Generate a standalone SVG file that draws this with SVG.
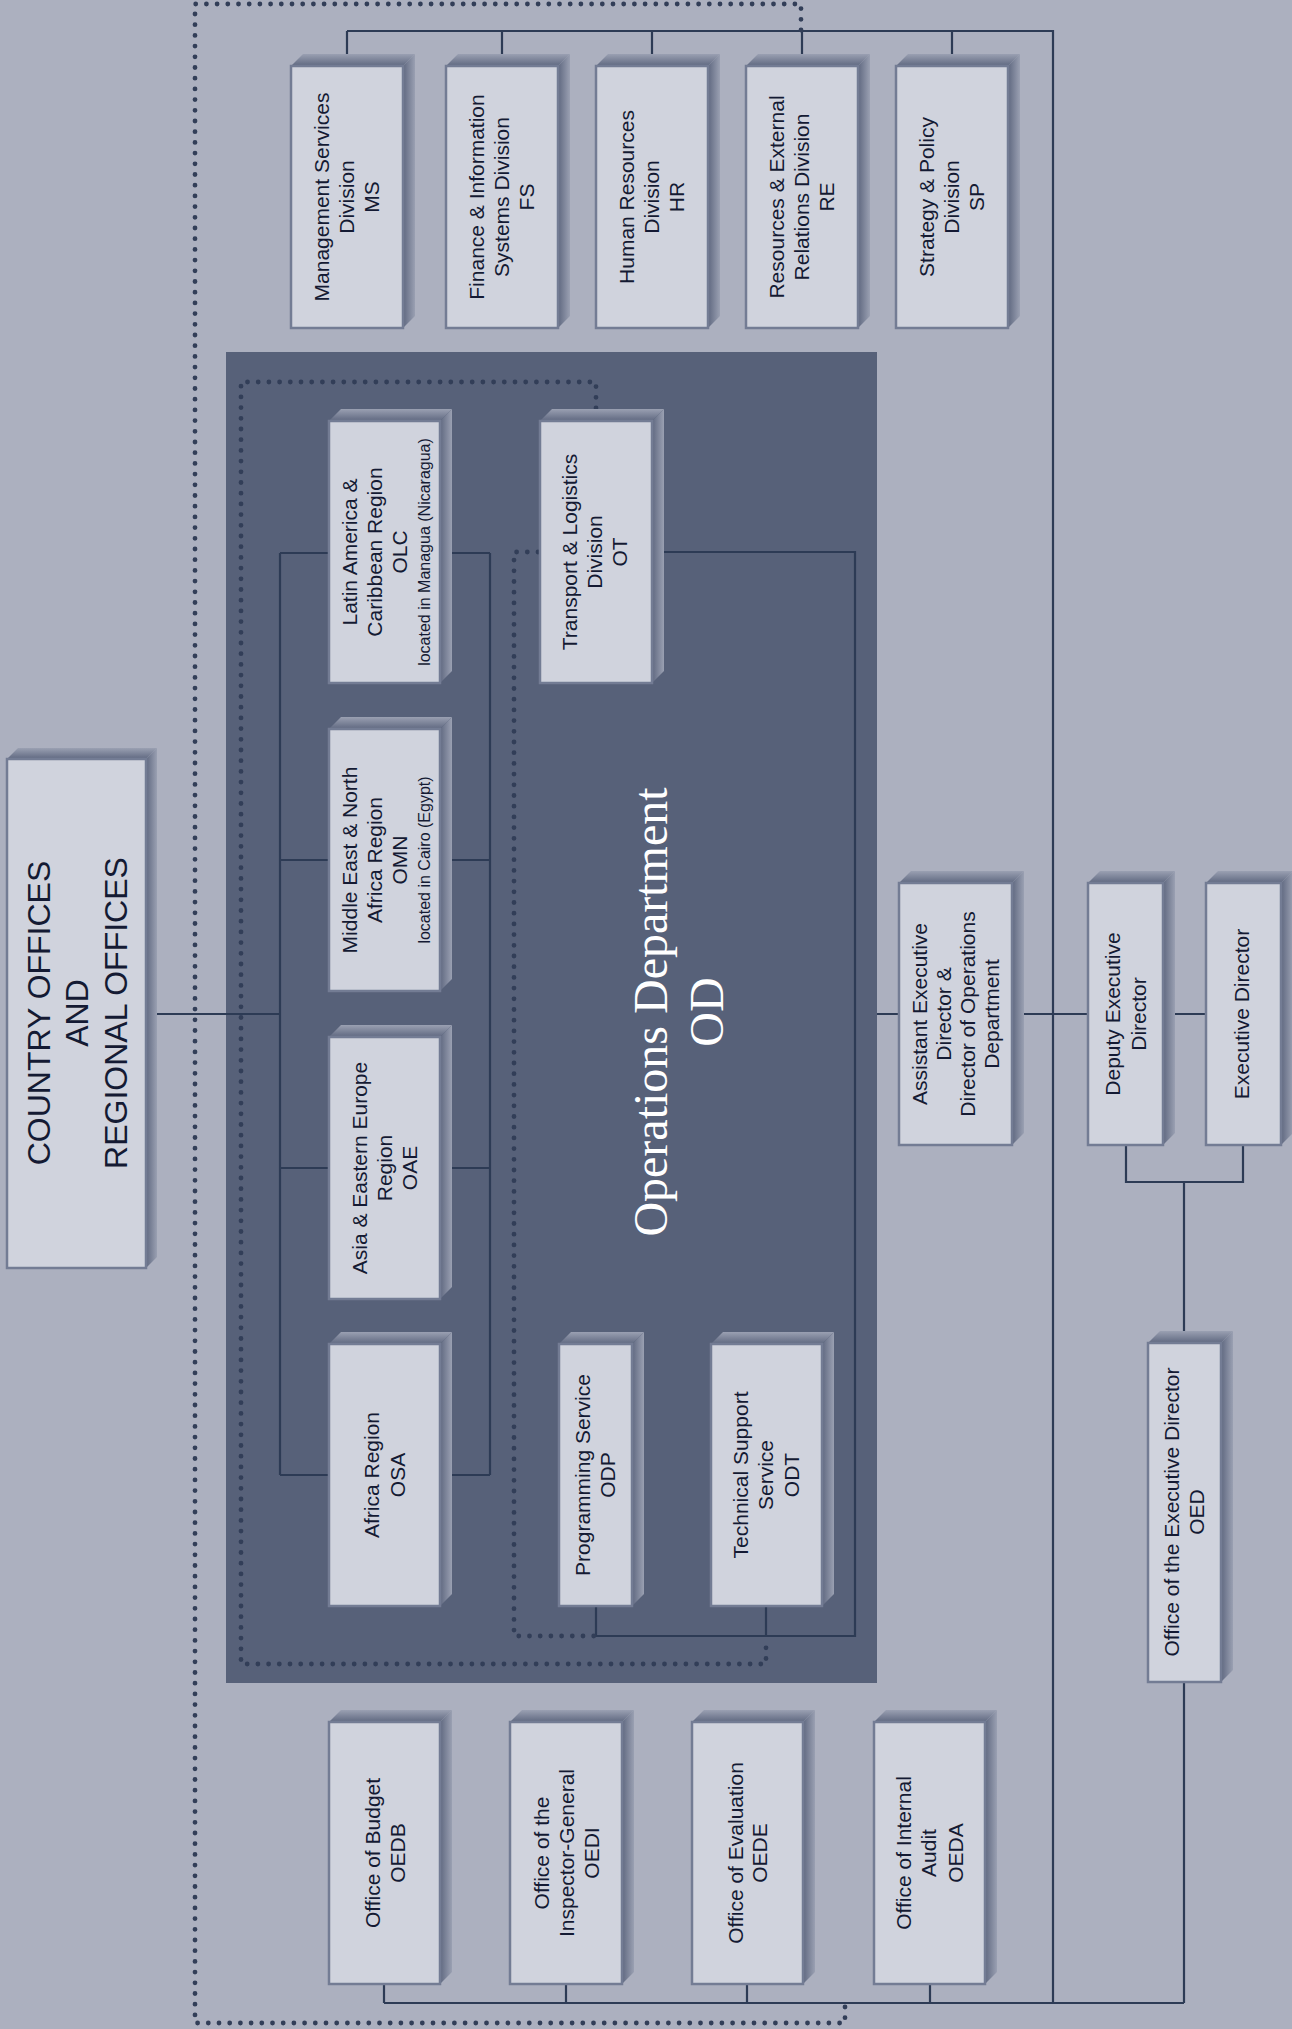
<svg xmlns="http://www.w3.org/2000/svg" width="1292" height="2029" viewBox="0 0 1292 2029">
<defs>
<linearGradient id="gT" x1="0" y1="0" x2="0" y2="1"><stop offset="0" stop-color="#9aa0b2"/><stop offset="1" stop-color="#5f6880"/></linearGradient>
<linearGradient id="gS" x1="0" y1="0" x2="1" y2="0"><stop offset="0" stop-color="#5f6880"/><stop offset="1" stop-color="#9aa0b2"/></linearGradient>
<style>
.f{fill:#d0d3dd;stroke:#737c94;stroke-width:2.5}
.tp{fill:url(#gT)}
.sd{fill:url(#gS)}
.ln{fill:none;stroke:#2d3b55;stroke-width:2.2}
.dt{fill:none;stroke:#323e58;stroke-width:4.8;stroke-dasharray:0 10.7;stroke-linecap:round}
.t{font-family:"Liberation Sans",Arial,sans-serif;font-size:21px;fill:#141a33;text-anchor:middle}
.s{font-size:16px}
.co{font-size:32px}
.od{font-family:"Liberation Serif","Times New Roman",serif;font-size:48px;fill:#ffffff;text-anchor:middle}
</style>
</defs>
<rect width="1292" height="2029" fill="#acb0bf"/>
<g id="n-od">
<rect x="226" y="352" width="651" height="1331" fill="#576179"/>
<text class="od" transform="translate(694,1012) rotate(-90)"><tspan x="0" y="-27">Operations Department</tspan><tspan x="0" y="29">OD</tspan></text>
</g>
<g id="connectors">
<path class="ln" d="M347,31 H1053 V2003 M347,31 V54 M502,31 V54 M652,31 V54 M802,31 V54 M952,31 V54"/>
<path class="ln" d="M157,1014 H280"/>
<path class="ln" d="M280,553 V1475 M490,553 V1475 M280,553 H490 M280,860 H490 M280,1168 H490 M280,1475 H490"/>
<path class="ln" d="M596,552 H855 V1636 H596 V1606 M766,1636 V1606"/>
<path class="ln" d="M877,1014 H1206"/>
<path class="ln" d="M1126,1145 V1182 H1243 V1145 M1184,1182 V2003"/>
<path class="ln" d="M384,2003 H1184 M384,1984 V2003 M566,1984 V2003 M747,1984 V2003 M930,1984 V2003"/>
<path class="dt" d="M801,30 V4 H195 V2023 H845 V2004"/>
<path class="dt" d="M596,408 V382 H241 V1664 H766 V1638"/>
<path class="dt" d="M538,552 H514 V1636 H594"/>
</g>
<g id="n-ms"><polygon class="tp" points="291,66 303,54 415,54 403,66"/><polygon class="sd" points="403,66 415,54 415,316 403,328"/><rect class="f" x="291" y="66" width="112" height="262"/>
<text class="t" transform="translate(347,197) rotate(-90)"><tspan x="0" y="-18">Management Services</tspan><tspan x="0" y="7">Division</tspan><tspan x="0" y="32">MS</tspan></text></g>
<g id="n-fs"><polygon class="tp" points="446,66 458,54 570,54 558,66"/><polygon class="sd" points="558,66 570,54 570,316 558,328"/><rect class="f" x="446" y="66" width="112" height="262"/>
<text class="t" transform="translate(502,197) rotate(-90)"><tspan x="0" y="-18">Finance &amp; Information</tspan><tspan x="0" y="7">Systems Division</tspan><tspan x="0" y="32">FS</tspan></text></g>
<g id="n-hr"><polygon class="tp" points="596,66 608,54 720,54 708,66"/><polygon class="sd" points="708,66 720,54 720,316 708,328"/><rect class="f" x="596" y="66" width="112" height="262"/>
<text class="t" transform="translate(652,197) rotate(-90)"><tspan x="0" y="-18">Human Resources</tspan><tspan x="0" y="7">Division</tspan><tspan x="0" y="32">HR</tspan></text></g>
<g id="n-re"><polygon class="tp" points="746,66 758,54 870,54 858,66"/><polygon class="sd" points="858,66 870,54 870,316 858,328"/><rect class="f" x="746" y="66" width="112" height="262"/>
<text class="t" transform="translate(802,197) rotate(-90)"><tspan x="0" y="-18">Resources &amp; External</tspan><tspan x="0" y="7">Relations Division</tspan><tspan x="0" y="32">RE</tspan></text></g>
<g id="n-sp"><polygon class="tp" points="896,66 908,54 1020,54 1008,66"/><polygon class="sd" points="1008,66 1020,54 1020,316 1008,328"/><rect class="f" x="896" y="66" width="112" height="262"/>
<text class="t" transform="translate(952,197) rotate(-90)"><tspan x="0" y="-18">Strategy &amp; Policy</tspan><tspan x="0" y="7">Division</tspan><tspan x="0" y="32">SP</tspan></text></g>
<g id="n-olc"><polygon class="tp" points="329,421 341,409 452,409 440,421"/><polygon class="sd" points="440,421 452,409 452,671 440,683"/><rect class="f" x="329" y="421" width="111" height="262"/>
<text class="t" transform="translate(384.5,552) rotate(-90)"><tspan x="0" y="-27.5">Latin America &amp;</tspan><tspan x="0" y="-2.5">Caribbean Region</tspan><tspan x="0" y="22.5">OLC</tspan><tspan class="s" x="0" y="45">located in Managua (Nicaragua)</tspan></text></g>
<g id="n-ot"><polygon class="tp" points="540,421 552,409 664,409 652,421"/><polygon class="sd" points="652,421 664,409 664,671 652,683"/><rect class="f" x="540" y="421" width="112" height="262"/>
<text class="t" transform="translate(596,552) rotate(-90)"><tspan x="0" y="-19">Transport &amp; Logistics</tspan><tspan x="0" y="6">Division</tspan><tspan x="0" y="31">OT</tspan></text></g>
<g id="n-omn"><polygon class="tp" points="329,729 341,717 452,717 440,729"/><polygon class="sd" points="440,729 452,717 452,979 440,991"/><rect class="f" x="329" y="729" width="111" height="262"/>
<text class="t" transform="translate(384.5,860) rotate(-90)"><tspan x="0" y="-27.5">Middle East &amp; North</tspan><tspan x="0" y="-2.5">Africa Region</tspan><tspan x="0" y="22.5">OMN</tspan><tspan class="s" x="0" y="45">located in Cairo (Egypt)</tspan></text></g>
<g id="n-oae"><polygon class="tp" points="329,1037 341,1025 452,1025 440,1037"/><polygon class="sd" points="440,1037 452,1025 452,1287 440,1299"/><rect class="f" x="329" y="1037" width="111" height="262"/>
<text class="t" transform="translate(384.5,1168) rotate(-90)"><tspan x="0" y="-17.5">Asia &amp; Eastern Europe</tspan><tspan x="0" y="7.5">Region</tspan><tspan x="0" y="32.5">OAE</tspan></text></g>
<g id="n-osa"><polygon class="tp" points="329,1344 341,1332 452,1332 440,1344"/><polygon class="sd" points="440,1344 452,1332 452,1594 440,1606"/><rect class="f" x="329" y="1344" width="111" height="262"/>
<text class="t" transform="translate(384.5,1475) rotate(-90)"><tspan x="0" y="-5.5">Africa Region</tspan><tspan x="0" y="20.5">OSA</tspan></text></g>
<g id="n-odp"><polygon class="tp" points="559,1344 571,1332 644,1332 632,1344"/><polygon class="sd" points="632,1344 644,1332 644,1594 632,1606"/><rect class="f" x="559" y="1344" width="73" height="262"/>
<text class="t" transform="translate(595.5,1475) rotate(-90)"><tspan x="0" y="-6">Programming Service</tspan><tspan x="0" y="19.5">ODP</tspan></text></g>
<g id="n-odt"><polygon class="tp" points="711,1344 723,1332 834,1332 822,1344"/><polygon class="sd" points="822,1344 834,1332 834,1594 822,1606"/><rect class="f" x="711" y="1344" width="111" height="262"/>
<text class="t" transform="translate(766.5,1475) rotate(-90)"><tspan x="0" y="-19">Technical Support</tspan><tspan x="0" y="6.5">Service</tspan><tspan x="0" y="32">ODT</tspan></text></g>
<g id="n-co"><polygon class="tp" points="7,759 18,748 157,748 146,759"/><polygon class="sd" points="146,759 157,748 157,1257 146,1268"/><rect class="f" x="7" y="759" width="139" height="509"/>
<text class="t co" transform="translate(76.5,1013) rotate(-90)"><tspan x="0" y="-27">COUNTRY OFFICES</tspan><tspan x="0" y="11.5">AND</tspan><tspan x="0" y="50">REGIONAL OFFICES</tspan></text></g>
<g id="n-aed"><polygon class="tp" points="899,883 911,871 1024,871 1012,883"/><polygon class="sd" points="1012,883 1024,871 1024,1133 1012,1145"/><rect class="f" x="899" y="883" width="113" height="262"/>
<text class="t" transform="translate(955.5,1014) rotate(-90)"><tspan x="0" y="-28.5">Assistant Executive</tspan><tspan x="0" y="-4.5">Director &amp;</tspan><tspan x="0" y="19">Director of Operations</tspan><tspan x="0" y="43">Department</tspan></text></g>
<g id="n-ded"><polygon class="tp" points="1088,883 1100,871 1175,871 1163,883"/><polygon class="sd" points="1163,883 1175,871 1175,1133 1163,1145"/><rect class="f" x="1088" y="883" width="75" height="262"/>
<text class="t" transform="translate(1125.5,1014) rotate(-90)"><tspan x="0" y="-6">Deputy Executive</tspan><tspan x="0" y="20">Director</tspan></text></g>
<g id="n-ed"><polygon class="tp" points="1206,883 1218,871 1293,871 1281,883"/><polygon class="sd" points="1281,883 1293,871 1293,1133 1281,1145"/><rect class="f" x="1206" y="883" width="75" height="262"/>
<text class="t" transform="translate(1243.5,1014) rotate(-90)"><tspan x="0" y="5.5">Executive Director</tspan></text></g>
<g id="n-oed"><polygon class="tp" points="1148,1343 1160,1331 1233,1331 1221,1343"/><polygon class="sd" points="1221,1343 1233,1331 1233,1670 1221,1682"/><rect class="f" x="1148" y="1343" width="73" height="339"/>
<text class="t" transform="translate(1184.5,1512) rotate(-90)"><tspan x="0" y="-6">Office of the Executive Director</tspan><tspan x="0" y="19.5">OED</tspan></text></g>
<g id="n-oedb"><polygon class="tp" points="329,1722 341,1710 452,1710 440,1722"/><polygon class="sd" points="440,1722 452,1710 452,1972 440,1984"/><rect class="f" x="329" y="1722" width="111" height="262"/>
<text class="t" transform="translate(384.5,1853) rotate(-90)"><tspan x="0" y="-5">Office of Budget</tspan><tspan x="0" y="20.5">OEDB</tspan></text></g>
<g id="n-oedi"><polygon class="tp" points="510,1722 522,1710 634,1710 622,1722"/><polygon class="sd" points="622,1722 634,1710 634,1972 622,1984"/><rect class="f" x="510" y="1722" width="112" height="262"/>
<text class="t" transform="translate(566,1853) rotate(-90)"><tspan x="0" y="-17">Office of the</tspan><tspan x="0" y="8">Inspector-General</tspan><tspan x="0" y="33">OEDI</tspan></text></g>
<g id="n-oede"><polygon class="tp" points="692,1722 704,1710 815,1710 803,1722"/><polygon class="sd" points="803,1722 815,1710 815,1972 803,1984"/><rect class="f" x="692" y="1722" width="111" height="262"/>
<text class="t" transform="translate(747.5,1853) rotate(-90)"><tspan x="0" y="-4.5">Office of Evaluation</tspan><tspan x="0" y="19.5">OEDE</tspan></text></g>
<g id="n-oeda"><polygon class="tp" points="874,1722 886,1710 997,1710 985,1722"/><polygon class="sd" points="985,1722 997,1710 997,1972 985,1984"/><rect class="f" x="874" y="1722" width="111" height="262"/>
<text class="t" transform="translate(930,1853) rotate(-90)"><tspan x="0" y="-19">Office of Internal</tspan><tspan x="0" y="6">Audit</tspan><tspan x="0" y="33">OEDA</tspan></text></g>
</svg>
